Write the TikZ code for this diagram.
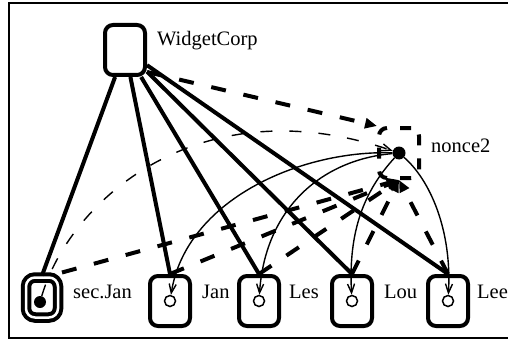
\documentclass[tikz,border=0pt]{standalone}
\usepackage{fontspec}
\setmainfont{Liberation Serif}
\usetikzlibrary{arrows.meta}
\begin{document}
\begin{tikzpicture}[x=1pt,y=-1pt,
  agent/.style={draw, rounded corners=8pt, line width=4pt, minimum width=40pt,
    minimum height=50pt, inner sep=0pt},
  keybox/.style={draw, rounded corners=9pt, line width=4pt, double, double distance=2.5pt,
    minimum width=32pt, minimum height=40pt, inner sep=0pt},
  noncebox/.style={agent, dash pattern=on 11pt off 13pt},
  hole/.style={circle, draw, line width=1.5pt, minimum size=11pt, inner sep=0pt},
  fulldot/.style={circle, fill, minimum size=12pt, inner sep=0pt},
  lbl/.style={anchor=base west, inner sep=0pt, font=\fontsize{20.5}{24}\selectfont},
  owns/.style={line width=4pt},
  sends/.style={line width=4pt, dash pattern=on 15pt off 18pt,
    -{Triangle[length=12pt,width=10pt]}},
  gets/.style={line width=1.4pt, -{Straight Barb[length=9pt,width=7pt]}},
  leak/.style={gets, dash pattern=on 12pt off 17pt},
]
\useasboundingbox (0,0) rectangle (508,342);
% frame
\draw[line width=1.3pt] (508,3) -- (9,3) -- (9,338) -- (508,338);

% principals
\node[agent] (wc) at (125,50) {};
\node[lbl] (wcname) at (157,46) {WidgetCorp};

\node[noncebox] (n2) at (399,153) {};
\node[fulldot, minimum size=13pt] (n2dot) at (399,153) {};
\node[lbl] (n2name) at (431,152) {nonce2};

\node[keybox] (sj) at (42,297.5) {};
\node[fulldot] (sjdot) at (40,302) {};
\node[lbl] (sjname) at (73,298) {sec.Jan};

\node[agent] (jan) at (170,301) {};
\node[hole] (janc) at (170,301) {};
\node[lbl] (janname) at (202,298) {Jan};

\node[agent] (les) at (259,301) {};
\node[hole] (lesc) at (259,301) {};
\node[lbl] (lesname) at (289,298) {Les};

\node[agent] (lou) at (352,301) {};
\node[hole] (louc) at (352,301) {};
\node[lbl] (louname) at (384,298) {Lou};

\node[agent] (lee) at (448,301) {};
\node[hole] (leec) at (448,301) {};
\node[lbl] (leename) at (477,298) {Lee};

% ownership
\draw[owns] (wc) -- (sj.north);
\draw[owns] (wc) -- (jan.north);
\draw[owns] (wc) -- (les.north);
\draw[owns] (wc) -- (lou.north);
\draw[owns] (wc) -- (lee.north);

% messages towards the nonce
\draw[sends] (wc.-45) -- (n2.north west);
\draw[sends] ([xshift=2pt,yshift=3pt]sj.north east) -- (n2.south);
\draw[sends] (jan.north) -- (n2.south);
\draw[sends] (les.north) -- (n2.south);
\draw[sends] (lou.north) -- (n2.south);
\draw[sends] (lee.north) -- (n2.south);

% nonce handed out
\draw[gets] (n2dot) .. controls +(-99,-3) and +(16,-101) .. (janc);
\draw[gets] (n2dot) .. controls +(-79,7) and +(6,-91) .. (lesc);
\draw[gets] (n2dot) .. controls +(-34,37) and +(-4,-71) .. (louc);
\draw[gets] (n2dot) .. controls +(31,27) and +(4,-71) .. (leec);

% secret key reaching the nonce
\draw[leak] (sjdot) .. controls +(30,-102) and +(-199,-68) .. (n2dot);
\end{tikzpicture}
\end{document}
